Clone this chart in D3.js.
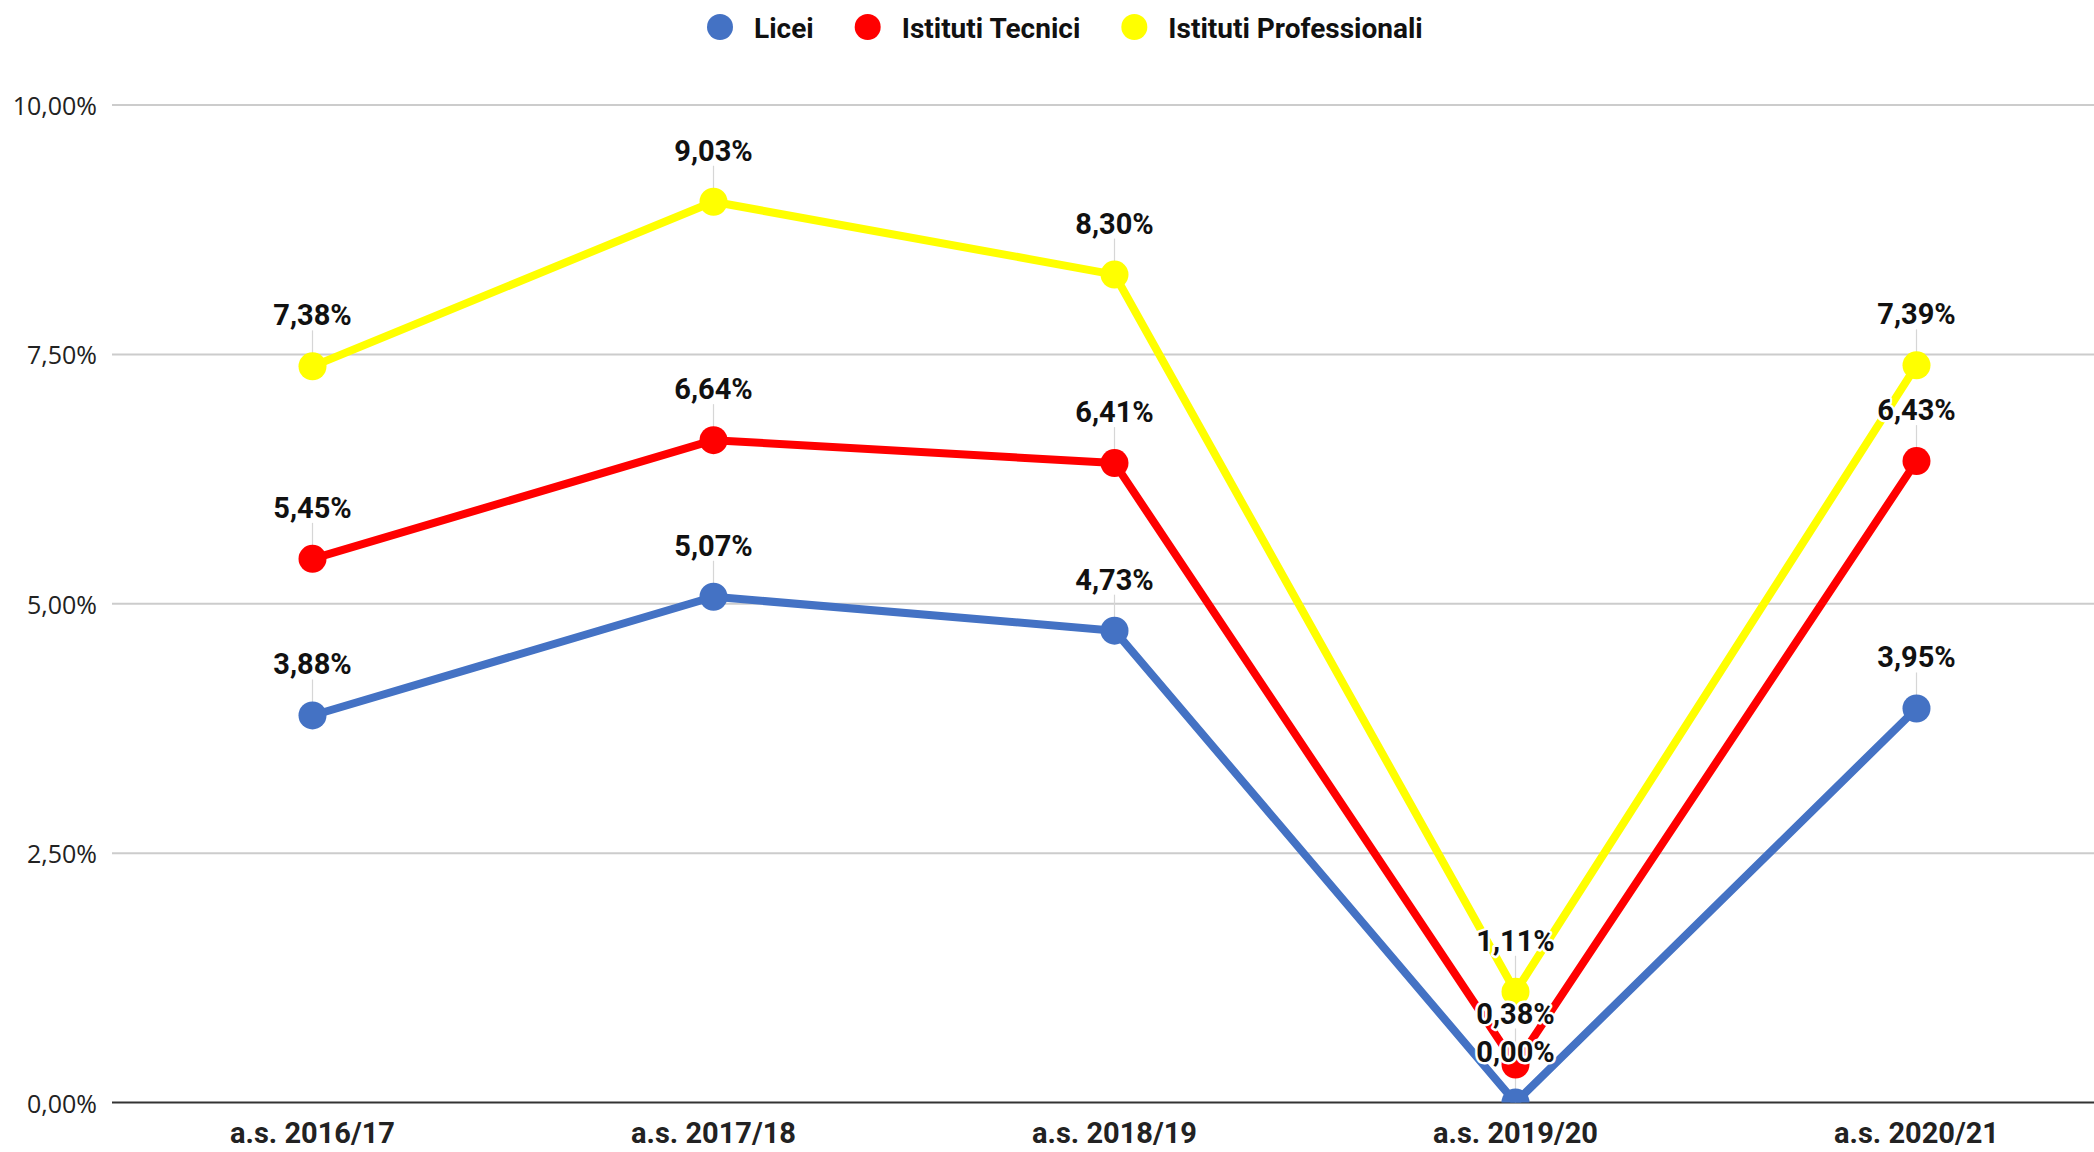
<!DOCTYPE html>
<html lang="it">
<head>
    <meta charset="UTF-8">
    <title>Licei / Tecnici / Professionali</title>
    <script src="https://d3js.org/d3.v7.min.js"></script>
    <style>
        body { margin: 0; background: white; }
        svg { display: block; }
    </style>
</head>
<body>
<svg id="main" width="2094" height="1152"></svg>
<script>
    // data (percent values)
    let years = ["a.s. 2016/17", "a.s. 2017/18", "a.s. 2018/19", "a.s. 2019/20", "a.s. 2020/21"];
    let seriesNames = ["Licei", "Istituti Tecnici", "Istituti Professionali"];
    let licei = [3.88, 5.07, 4.73, 0.00, 3.95];
    let tecnici = [5.45, 6.64, 6.41, 0.38, 6.43];
    let professionali = [7.38, 9.03, 8.30, 1.11, 7.39];
    let yTicks = [0, 2.5, 5, 7.5, 10];
    let colors = ["#4472c4", "#ff0000", "#ffff00"];

    let series = [licei, tecnici, professionali].map(function (vals, i) {
        return {name: seriesNames[i], color: colors[i],
                values: vals.map(function (v, j) { return {year: years[j], v: v}; })};
    });

    let svg = d3.select('svg#main');
    let it = d3.formatLocale({decimal: ",", thousands: ".", grouping: [3], currency: ["€", ""]});
    let fmt = function (v) { return it.format(".2f")(v) + "%"; };

    //scales
    let x = d3.scalePoint().domain(years).range([112, 2117]).padding(0.5);
    let y = d3.scaleLinear().domain([0, 10]).range([1102.5, 105]);

    //gridlines + y labels
    let grid = svg.append('g');
    grid.selectAll('line').data(yTicks).join('line')
        .attr('x1', 112).attr('x2', 2094)
        .attr('y1', function (d) { return y(d); })
        .attr('y2', function (d) { return y(d); })
        .style('stroke', function (d) { return d === 0 ? '#333' : '#cccccc'; })
        .style('stroke-width', '2px');
    grid.selectAll('text').data(yTicks).join('text')
        .attr('x', 97).attr('y', function (d) { return y(d); })
        .attr('text-anchor', 'end').attr('dominant-baseline', 'central')
        .style('font-family', '"Open Sans", sans-serif').style('font-size', '25px')
        .style('fill', '#222')
        .text(function (d) { return fmt(d); });

    //x labels
    svg.append('g').selectAll('text').data(years).join('text')
        .attr('x', function (d) { return x(d); }).attr('y', 1143)
        .attr('text-anchor', 'middle')
        .style('font-family', 'Roboto, sans-serif').style('font-weight', 'bold')
        .style('font-size', '29px').style('fill', '#222')
        .text(function (d) { return d; });

    //clip to plot area
    svg.append('clipPath').attr('id', 'plot')
        .append('rect').attr('x', 0).attr('y', 0).attr('width', 2094).attr('height', y(0));

    let plot = svg.append('g').attr('clip-path', 'url(#plot)');

    //leader lines from labels to points
    let leaders = plot.append('g');
    series.forEach(function (s) {
        leaders.selectAll(null).data(s.values).join('line')
            .attr('x1', function (d) { return x(d.year); })
            .attr('x2', function (d) { return x(d.year); })
            .attr('y1', function (d) { return y(d.v) - 36; })
            .attr('y2', function (d) { return y(d.v); })
            .style('stroke', '#d6d6d6').style('stroke-width', '1.2px');
    });

    let line = d3.line()
        .x(function (d) { return x(d.year); })
        .y(function (d) { return y(d.v); });

    series.forEach(function (s) {
        let g = plot.append('g');
        g.append('path').attr('d', line(s.values))
            .style('fill', 'none').style('stroke', s.color)
            .style('stroke-width', '8px').style('stroke-linejoin', 'round');
        g.selectAll('circle').data(s.values).join('circle')
            .attr('cx', function (d) { return x(d.year); })
            .attr('cy', function (d) { return y(d.v); })
            .attr('r', 14).style('fill', s.color);
    });

    //data labels on top of everything
    let labels = svg.append('g');
    series.forEach(function (s) {
        labels.selectAll(null).data(s.values).join('text')
            .attr('x', function (d) { return x(d.year); })
            .attr('y', function (d) { return y(d.v) - 41; })
            .attr('text-anchor', 'middle')
            .style('font-family', 'Roboto, sans-serif').style('font-weight', 'bold')
            .style('font-size', '29px').style('fill', '#111')
            .style('stroke', 'white').style('stroke-width', '5px')
            .style('paint-order', 'stroke').style('stroke-linejoin', 'round')
            .text(function (d) { return fmt(d.v); });
    });

    //legend
    let legend = svg.append('g');
    let lx = 707;
    series.forEach(function (s) {
        legend.append('circle').attr('cx', lx + 13).attr('cy', 27).attr('r', 13)
            .style('fill', s.color);
        let t = legend.append('text').attr('x', lx + 47).attr('y', 28)
            .attr('dominant-baseline', 'central')
            .style('font-family', 'Roboto, sans-serif').style('font-weight', 'bold')
            .style('font-size', '28px').style('fill', '#111')
            .text(s.name);
        lx = lx + 47 + t.node().getComputedTextLength() + 41;
    });
</script>
</body>
</html>
